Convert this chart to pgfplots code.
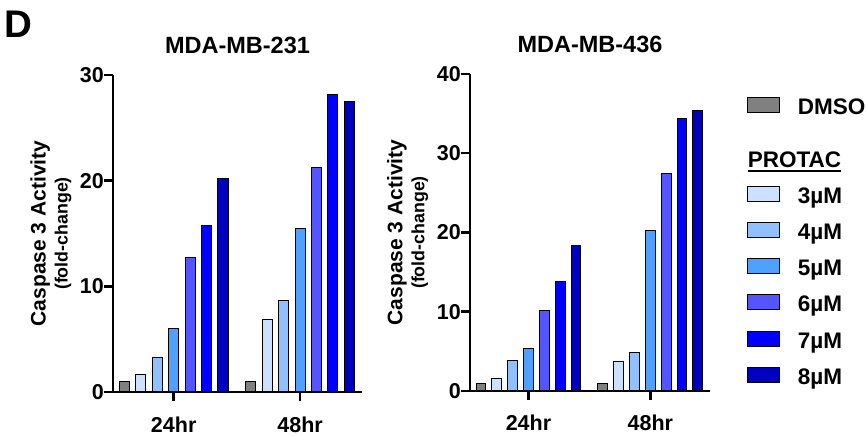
\documentclass[border=0pt]{standalone}
\usepackage{fontspec}
\setmainfont{Liberation Sans}
\usepackage{pgfplots}
\pgfplotsset{compat=1.18}
\definecolor{cDMSO}{RGB}{128,128,128}
\definecolor{cThree}{RGB}{204,224,255}
\definecolor{cFour}{RGB}{145,192,255}
\definecolor{cFive}{RGB}{80,160,255}
\definecolor{cSix}{RGB}{85,85,255}
\definecolor{cSeven}{RGB}{0,0,255}
\definecolor{cEight}{RGB}{0,0,192}
\newcommand\ul[1]{\setbox0\hbox{#1}\rlap{\rule[-4.5pt]{\wd0}{1.6pt}}\box0}
\pgfplotsset{
  mybar/.style={ybar, bar width=0.08, draw=black, line width=1pt, fill=#1,
    legend image code/.code={\draw[fill=#1, draw=black, line width=1pt] (0pt,2pt) rectangle (32pt,17pt);}},
  myaxis/.style={
    scale only axis, height=317pt,
    axis lines=left, axis line style={-, line width=2.5pt, black},
    tick style={line width=2.5pt, black}, tick align=outside, major tick length=9pt,
    xmin=-0.48, xmax=1.49, ymin=0,
    xtick={0,1}, xticklabels={24hr,48hr},
    /pgf/number format/assume math mode=true,
    tick label style={font=\fontsize{21.5}{24}\selectfont\bfseries},
    yticklabel style={anchor=east, inner sep=0pt},
    xticklabel style={anchor=base, inner sep=0pt, yshift=-31pt},
    title style={font=\fontsize{23.5}{26}\selectfont\bfseries, anchor=base, inner sep=0pt},
    ylabel style={font=\fontsize{21}{22}\selectfont\bfseries, align=center, inner sep=0pt, anchor=north},
    legend style={draw=none, fill=none, anchor=north west, column sep=18pt, row sep=13.7pt,
      font=\fontsize{22.5}{26}\selectfont\bfseries,
      nodes={inner sep=0pt, text height=17pt, text depth=5pt, anchor=base west}},
    legend cell align=left,
    clip=false,
  }
}
\begin{document}
\begin{tikzpicture}
\useasboundingbox (0,0) rectangle (867pt,436pt);
\begin{axis}[myaxis, at={(113pt,44pt)}, anchor=south west, width=249pt,
  ymax=30, ytick={0,10,20,30},
  title={MDA-MB-231}, title style={at={(axis description cs:0.5,1.050)}},
  ylabel={Caspase 3 Activity\\{\fontsize{17.8}{22}\selectfont (fold-change)}},
  ylabel style={at={(axis description cs:-0.333,0.5)}},
  legend style={at={(axis description cs:2.533,0.936)}}]
\addplot[mybar=cDMSO, bar shift=-0.39] coordinates {(0,0.95) (1,1.0)};
\addlegendentry{DMSO}
\addplot[mybar=cThree, bar shift=-0.26] coordinates {(0,1.64) (1,6.9)};
\addplot[mybar=cFour, bar shift=-0.13] coordinates {(0,3.25) (1,8.7)};
\addplot[mybar=cFive, bar shift=0] coordinates {(0,6.0) (1,15.45)};
\addplot[mybar=cSix, bar shift=0.13] coordinates {(0,12.76) (1,21.27)};
\addplot[mybar=cSeven, bar shift=0.26] coordinates {(0,15.75) (1,28.14)};
\addplot[mybar=cEight, bar shift=0.39] coordinates {(0,20.2) (1,27.5)};
\end{axis}
\begin{axis}[myaxis, at={(470pt,45pt)}, anchor=south west, width=240pt,
  ymax=40, ytick={0,10,20,30,40},
  title={MDA-MB-436}, title style={at={(axis description cs:0.5,1.049)}},
  ylabel={Caspase 3 Activity\\{\fontsize{17.8}{22}\selectfont (fold-change)}},
  ylabel style={at={(axis description cs:-0.346,0.5)}},
  legend style={at={(axis description cs:1.140,0.767)}}]
\addplot[mybar=cDMSO, bar shift=-0.39, forget plot] coordinates {(0,0.93) (1,0.93)};
\addlegendimage{empty legend}
\addlegendentry{\hspace*{-50pt}\ul{PROTAC}}
\addplot[mybar=cThree, bar shift=-0.26] coordinates {(0,1.52) (1,3.67)};
\addlegendentry{3µM}
\addplot[mybar=cFour, bar shift=-0.13] coordinates {(0,3.8) (1,4.85)};
\addlegendentry{4µM}
\addplot[mybar=cFive, bar shift=0] coordinates {(0,5.3) (1,20.3)};
\addlegendentry{5µM}
\addplot[mybar=cSix, bar shift=0.13] coordinates {(0,10.15) (1,27.45)};
\addlegendentry{6µM}
\addplot[mybar=cSeven, bar shift=0.26] coordinates {(0,13.77) (1,34.4)};
\addlegendentry{7µM}
\addplot[mybar=cEight, bar shift=0.39] coordinates {(0,18.4) (1,35.45)};
\addlegendentry{8µM}
\end{axis}
\node[anchor=base west, inner sep=0pt, font=\fontsize{38.5}{40}\selectfont\bfseries] at (4.5pt,398.3pt) {D};
\end{tikzpicture}
\end{document}
